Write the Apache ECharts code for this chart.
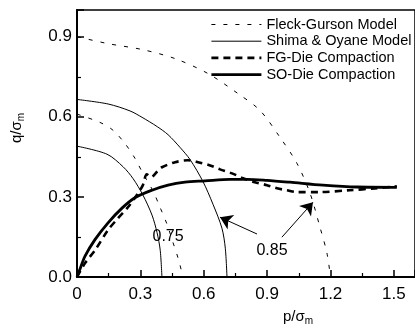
<!DOCTYPE html>
<html>
<head>
<meta charset="utf-8">
<script src="https://cdn.jsdelivr.net/npm/echarts@6/dist/echarts.min.js"></script>
<style>
  html, body { margin: 0; padding: 0; background: #fff; }
  #chart { width: 415px; height: 328px; }
</style>
</head>
<body>
<div id="chart"></div>
<script>
// yield surfaces, [p/σm, q/σm]
var fgModel085 = [[0, 0.9], [0.147, 0.874], [0.308, 0.852], [0.464, 0.818], [0.62, 0.762], [0.762, 0.687],
  [0.866, 0.624], [0.961, 0.523], [1.041, 0.426], [1.103, 0.314], [1.15, 0.187], [1.183, 0.09], [1.2, 0]];
var fgModel075 = [[0, 0.61], [0.109, 0.579], [0.17, 0.55], [0.227, 0.5], [0.274, 0.445], [0.312, 0.388],
  [0.36, 0.322], [0.393, 0.261], [0.426, 0.198], [0.454, 0.13], [0.478, 0.072], [0.502, 0]];
var soModel085 = [[0, 0.665], [0.147, 0.648], [0.251, 0.622], [0.308, 0.598], [0.38, 0.563], [0.431, 0.533],
  [0.487, 0.486], [0.535, 0.44], [0.596, 0.358], [0.644, 0.272], [0.686, 0.183], [0.702, 0.108], [0.71, 0]];
var soModel075 = [[0, 0.49], [0.142, 0.46], [0.218, 0.413], [0.265, 0.369], [0.312, 0.307], [0.355, 0.232],
  [0.379, 0.166], [0.394, 0.1], [0.402, 0]];

// die compaction paths
var fgDie = [[0, 0], [0.038, 0.052], [0.085, 0.1], [0.147, 0.176], [0.194, 0.22], [0.241, 0.261], [0.289, 0.314],
  [0.312, 0.344], [0.33, 0.385], [0.35, 0.374], [0.38, 0.395], [0.402, 0.411], [0.464, 0.43], [0.525, 0.437],
  [0.573, 0.43], [0.63, 0.418], [0.677, 0.403], [0.734, 0.388], [0.786, 0.37], [0.842, 0.355], [0.899, 0.344],
  [0.947, 0.332], [0.994, 0.325], [1.041, 0.318], [1.15, 0.318], [1.29, 0.325], [1.41, 0.332], [1.514, 0.34]];
var soDie = [[0, 0], [0.012, 0.025], [0.038, 0.078], [0.085, 0.14], [0.147, 0.203], [0.213, 0.258], [0.274, 0.297],
  [0.355, 0.325], [0.431, 0.344], [0.511, 0.355], [0.606, 0.36], [0.724, 0.366], [0.805, 0.366], [0.899, 0.362],
  [1.008, 0.355], [1.164, 0.344], [1.325, 0.337], [1.514, 0.336]];

// annotations
var densityLabels = [[0.431, 0.153, '0.75'], [0.923, 0.1, '0.85']];
var arrowLines = [[[0.852, 0.161], [0.677, 0.224]], [[0.97, 0.149], [1.117, 0.28]]];

var legendNames = ['Fleck-Gurson Model', 'Shima & Oyane Model', 'FG-Die Compaction', 'SO-Die Compaction'];
var xTicks = [0, 1.6, 0.3];
var yTicks = [0, 1.0, 0.3];

var font = 'Liberation Sans, Arial, sans-serif';
var chart = echarts.init(document.getElementById('chart'));

var styles = {};
styles[legendNames[0]] = { width: 1, type: [4, 8] };
styles[legendNames[1]] = { width: 1, type: 'solid' };
styles[legendNames[2]] = { width: 2.6, type: [7, 5] };
styles[legendNames[3]] = { width: 2.8, type: 'solid' };

function curve(name, data) {
  return {
    name: name,
    type: 'line',
    data: data,
    symbol: 'none',
    smooth: 0.3,
    silent: true,
    animation: false,
    itemStyle: { color: '#000' },
    lineStyle: { color: '#000', width: styles[name].width, type: styles[name].type }
  };
}

var series = [
  curve(legendNames[0], fgModel085),
  curve(legendNames[1], soModel085),
  curve(legendNames[2], fgDie),
  curve(legendNames[3], soDie),
  curve(legendNames[0], fgModel075),
  curve(legendNames[1], soModel075)
];
series[3].markLine = {
  silent: true,
  animation: false,
  symbol: ['none', 'arrow'],
  symbolSize: 12,
  label: { show: false },
  lineStyle: { color: '#000', width: 1, type: 'solid' },
  data: arrowLines.map(function (l) { return [{ coord: l[0] }, { coord: l[1] }]; })
};
series.push({
  name: 'labels',
  type: 'scatter',
  data: densityLabels,
  symbolSize: 0,
  silent: true,
  animation: false,
  itemStyle: { opacity: 1, color: '#000' },
  label: {
    show: true,
    position: 'inside',
    formatter: function (p) { return p.value[2]; },
    color: '#000',
    fontSize: 16,
    fontFamily: font,
    backgroundColor: '#fff',
    padding: [1, 1]
  }
});

var option = {
  backgroundColor: '#fff',
  animation: false,
  grid: { left: 77, right: 0, top: 10, bottom: 51, show: true, borderColor: '#000', borderWidth: 1.5 },
  legend: {
    data: legendNames.map(function (n) {
      return { name: n, lineStyle: { color: '#000', width: styles[n].width, type: styles[n].type } };
    }),
    orient: 'vertical',
    left: 210,
    top: 17,
    padding: 0,
    itemWidth: 50,
    itemHeight: 14,
    itemGap: 1.7,
    selectedMode: false,
    itemStyle: { opacity: 0 },
    textStyle: { color: '#000', fontSize: 14.5, fontFamily: font }
  },
  xAxis: {
    type: 'value',
    min: xTicks[0], max: xTicks[1], interval: xTicks[2],
    splitLine: { show: false },
    axisLine: { onZero: false, lineStyle: { color: '#000', width: 2 } },
    axisTick: { inside: true, length: 7, lineStyle: { color: '#000', width: 1.5 } },
    minorTick: { show: true, splitNumber: 2, length: 4, lineStyle: { color: '#000', width: 1.2 } },
    axisLabel: {
      color: '#000', fontSize: 17, fontFamily: font, margin: 9, showMaxLabel: false,
      formatter: function (v) { return v === 0 ? '0' : v.toFixed(1); }
    }
  },
  yAxis: {
    type: 'value',
    min: yTicks[0], max: yTicks[1], interval: yTicks[2],
    splitLine: { show: false },
    axisLine: { onZero: false, lineStyle: { color: '#000', width: 2 } },
    axisTick: { inside: true, length: 7, lineStyle: { color: '#000', width: 1.5 } },
    minorTick: { show: true, splitNumber: 2, length: 4, lineStyle: { color: '#000', width: 1.2 } },
    axisLabel: {
      color: '#000', fontSize: 17, fontFamily: font, margin: 5, showMaxLabel: false,
      formatter: function (v) { return v.toFixed(1); }
    }
  },
  graphic: [
    {
      type: 'text', left: 283, top: 309, silent: true,
      style: {
        text: 'p/σ{s|m}', fill: '#000', font: '15px ' + font,
        rich: { s: { fontSize: 10, fontFamily: font, padding: [9, 0, 0, 0] } }
      }
    },
    {
      type: 'text', left: 9, top: 113, rotation: Math.PI / 2, silent: true,
      style: {
        text: 'q/σ{s|m}', fill: '#000', font: '15px ' + font,
        rich: { s: { fontSize: 10, fontFamily: font, padding: [9, 0, 0, 0] } }
      }
    }
  ],
  series: series
};
chart.setOption(option);
</script>
</body>
</html>
